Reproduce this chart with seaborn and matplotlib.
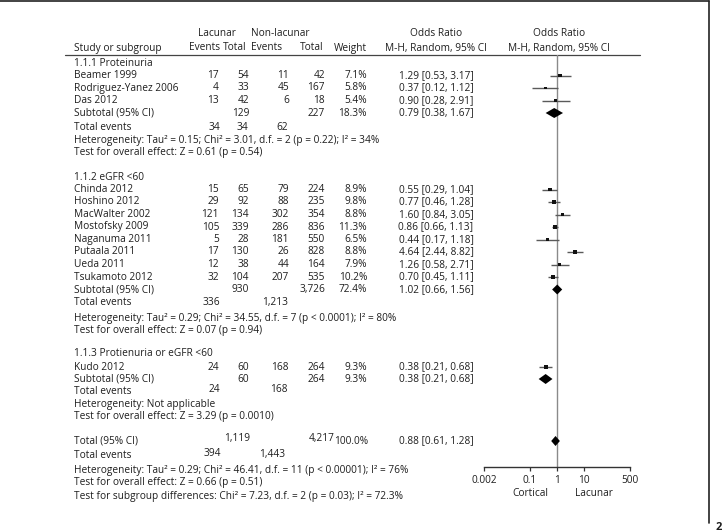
import numpy as np
import pandas as pd
import matplotlib
matplotlib.use('Agg')
import matplotlib.pyplot as plt
import seaborn as sns

# ---- data ----
studies = ['Beamer 1999', 'Rodriguez-Yanez 2006', 'Das 2012',
           'Chinda 2012', 'Hoshino 2012', 'MacWalter 2002', 'Mostofsky 2009',
           'Naganuma 2011', 'Putaala 2011', 'Ueda 2011', 'Tsukamoto 2012',
           'Kudo 2012']
lac_events = [17, 4, 13, 15, 29, 121, 105, 5, 17, 12, 32, 24]
lac_total = [54, 33, 42, 65, 92, 134, 339, 28, 130, 38, 104, 60]
non_events = [11, 45, 6, 79, 88, 302, 286, 181, 26, 44, 207, 168]
non_total = [42, 167, 18, 224, 235, 354, 836, 550, 828, 164, 535, 264]
weights = [7.1, 5.8, 5.4, 8.9, 9.8, 8.8, 11.3, 6.5, 8.8, 7.9, 10.2, 9.3]
odds = [1.29, 0.37, 0.90, 0.55, 0.77, 1.60, 0.86, 0.44, 4.64, 1.26, 0.70, 0.38]
ci_lo = [0.53, 0.12, 0.28, 0.29, 0.46, 0.84, 0.66, 0.17, 2.44, 0.58, 0.45, 0.21]
ci_hi = [3.17, 1.12, 2.91, 1.04, 1.28, 3.05, 1.13, 1.18, 8.82, 2.71, 1.11, 0.68]

groups = ['1.1.1 Proteinuria', '1.1.2 eGFR <60', '1.1.3 Protienuria or eGFR <60']
sub_lac_total = ['129', '930', '60']
sub_non_total = ['227', '3,726', '264']
sub_weight = [18.3, 72.4, 9.3]
sub_or = [0.79, 1.02, 0.38]
sub_lo = [0.38, 0.66, 0.21]
sub_hi = [1.67, 1.56, 0.68]
tot_ev_lac = ['34', '336', '24']
tot_ev_non = ['62', '1,213', '168']
het_text = ['Heterogeneity: Tau\u00b2 = 0.15; Chi\u00b2 = 3.01, d.f. = 2 (p = 0.22); I\u00b2 = 34%',
            'Heterogeneity: Tau\u00b2 = 0.29; Chi\u00b2 = 34.55, d.f. = 7 (p < 0.0001); I\u00b2 = 80%',
            'Heterogeneity: Not applicable']
eff_text = ['Test for overall effect: Z = 0.61 (p = 0.54)',
            'Test for overall effect: Z = 0.07 (p = 0.94)',
            'Test for overall effect: Z = 3.29 (p = 0.0010)']

all_lac_total, all_non_total = '1,119', '4,217'
all_or, all_lo, all_hi = 0.88, 0.61, 1.28
all_ev_lac, all_ev_non = '394', '1,443'
all_het = 'Heterogeneity: Tau\u00b2 = 0.29; Chi\u00b2 = 46.41, d.f. = 11 (p < 0.00001); I\u00b2 = 76%'
all_eff = 'Test for overall effect: Z = 0.66 (p = 0.51)'
sub_diff = 'Test for subgroup differences: Chi\u00b2 = 7.23, d.f. = 2 (p = 0.03); I\u00b2 = 72.3%'

ticks = [0.002, 0.1, 1, 10, 500]
tick_labels = ['0.002', '0.1', '1', '10', '500']

# ---- layout (pixel rows) ----
study_y = [75.5, 88, 100.5, 189.5, 202, 214.5, 227, 239.5, 252, 264.5, 277, 367]
group_y = [63, 177, 354]
sub_y = [113, 289.5, 379]
totev_y = [127, 302.5, 392]
het_y = [140, 318, 404]
eff_y = [152, 330, 416.5]

W, H = 722, 532
FS = 7.3
TC = '#1e1e1e'

sns.set_theme(style='white')
plt.rcParams['font.family'] = ['Open Sans', 'DejaVu Sans']

fig = plt.figure(figsize=(W / 100, H / 100), dpi=100)
bg = fig.add_axes([0, 0, 1, 1])
bg.set_xlim(0, W); bg.set_ylim(H, 0); bg.axis('off')

def txt(x, y, s, ha='left', **kw):
    bg.text(x, y, s, ha=ha, va='center', fontsize=FS, color=TC, **kw)

# frame + header rule
bg.plot([0, 709], [1, 1], color='#222222', lw=1.2)
bg.plot([709, 709], [1, 523], color='#222222', lw=1.2)
bg.text(716, 527, '2', fontsize=8, fontweight='bold', va='center', ha='left', color=TC)
bg.plot([65, 640], [55, 55], color='#444444', lw=0.9)

# column positions
X_LAB, X_LE, X_LT, X_NE, X_NT, X_W, X_OR = 74, 219, 249, 289, 325, 367, 436

txt(217, 33, 'Lacunar', 'center'); txt(280, 33, 'Non-lacunar', 'center')
txt(X_LAB, 48, 'Study or subgroup')
txt(220, 48, 'Events', 'right'); txt(223, 48, 'Total')
txt(251, 48, 'Events'); txt(324, 48, 'Total', 'right'); txt(367, 48, 'Weight', 'right')
txt(X_OR, 33, 'Odds Ratio', 'center'); txt(X_OR, 48, 'M-H, Random, 95% CI', 'center')
txt(559, 33, 'Odds Ratio', 'center'); txt(559, 48, 'M-H, Random, 95% CI', 'center')

for i, s in enumerate(studies):
    y = study_y[i]
    txt(X_LAB, y, s)
    txt(X_LE, y, str(lac_events[i]), 'right')
    txt(X_LT, y, str(lac_total[i]), 'right')
    txt(X_NE, y, str(non_events[i]), 'right')
    txt(X_NT, y, str(non_total[i]), 'right')
    txt(X_W, y, f'{weights[i]:.1f}%', 'right')
    txt(X_OR, y, f'{odds[i]:.2f} [{ci_lo[i]:.2f}, {ci_hi[i]:.2f}]', 'center')

for g in range(3):
    txt(X_LAB, group_y[g], groups[g])
    y = sub_y[g]
    txt(X_LAB, y, 'Subtotal (95% CI)')
    txt(X_LT, y, sub_lac_total[g], 'right')
    txt(X_NT, y, sub_non_total[g], 'right')
    txt(X_W, y, f'{sub_weight[g]:.1f}%', 'right')
    txt(X_OR, y, f'{sub_or[g]:.2f} [{sub_lo[g]:.2f}, {sub_hi[g]:.2f}]', 'center')
    y = totev_y[g]
    dy = -2.5 if g == 2 else 0
    txt(X_LAB, y, 'Total events')
    txt(X_LE + 1, y + dy, tot_ev_lac[g], 'right')
    if g == 0:
        txt(X_LT - 1, y, tot_ev_lac[g], 'right')
    txt(X_NE - 1, y + dy, tot_ev_non[g], 'right')
    txt(X_LAB, het_y[g], het_text[g])
    txt(X_LAB, eff_y[g], eff_text[g])

txt(X_LAB, 441, 'Total (95% CI)')
txt(250, 439, all_lac_total, 'right')
txt(335, 439, all_non_total, 'right')
txt(X_W + 1, 441, '100.0%', 'right')
txt(X_OR, 441, f'{all_or:.2f} [{all_lo:.2f}, {all_hi:.2f}]', 'center')
txt(X_LAB, 455, 'Total events')
txt(X_LE + 2, 454, all_ev_lac, 'right')
txt(X_NE - 4, 454, all_ev_non, 'right')
txt(X_LAB, 470, all_het)
txt(X_LAB, 482.5, all_eff)
txt(X_LAB, 496, sub_diff)
txt(530, 493, 'Cortical', 'center')
txt(594, 493, 'Lacunar', 'center')

# ---- forest panel ----
fx0, fx1, fy0, fy1 = 484, 630, 55, 467
fa = fig.add_axes([fx0 / W, 1 - fy1 / H, (fx1 - fx0) / W, (fy1 - fy0) / H])
fa.patch.set_alpha(0)
fa.set_xscale('log')
fa.set_xlim(0.002, 500)
fa.set_ylim(fy1, fy0)
for sp in ['top', 'right', 'left']:
    fa.spines[sp].set_visible(False)
fa.spines['bottom'].set_color('#333333')
fa.spines['bottom'].set_linewidth(1.0)
fa.set_yticks([])
fa.set_xticks(ticks)
fa.set_xticklabels(tick_labels)
fa.minorticks_off()
fa.tick_params(axis='x', length=3, width=0.9, pad=2.5, labelsize=FS,
               colors='#333333', labelcolor=TC, bottom=True)
fa.axvline(1, color='#8a8a8a', lw=1.0, zorder=1)

df = pd.DataFrame({'study': studies, 'or': odds, 'lo': ci_lo, 'hi': ci_hi,
                   'w': weights, 'y': study_y})
fa.hlines(df['y'], df['lo'], df['hi'], color='#5a5a5a', lw=1.0, zorder=2)
sns.scatterplot(data=df, x='or', y='y', size='w', sizes=(4, 9), marker='s',
                color='#111111', edgecolor='none', legend=False, ax=fa, zorder=3)
fa.set_xlabel(''); fa.set_ylabel('')

for est, lo, hi, y in zip(sub_or + [all_or], sub_lo + [all_lo],
                          sub_hi + [all_hi], sub_y + [441]):
    fa.fill([lo, est, hi, est], [y, y - 5, y, y + 5], color='#000000',
            lw=0, zorder=4)

fig.savefig('out.png', dpi=100)
